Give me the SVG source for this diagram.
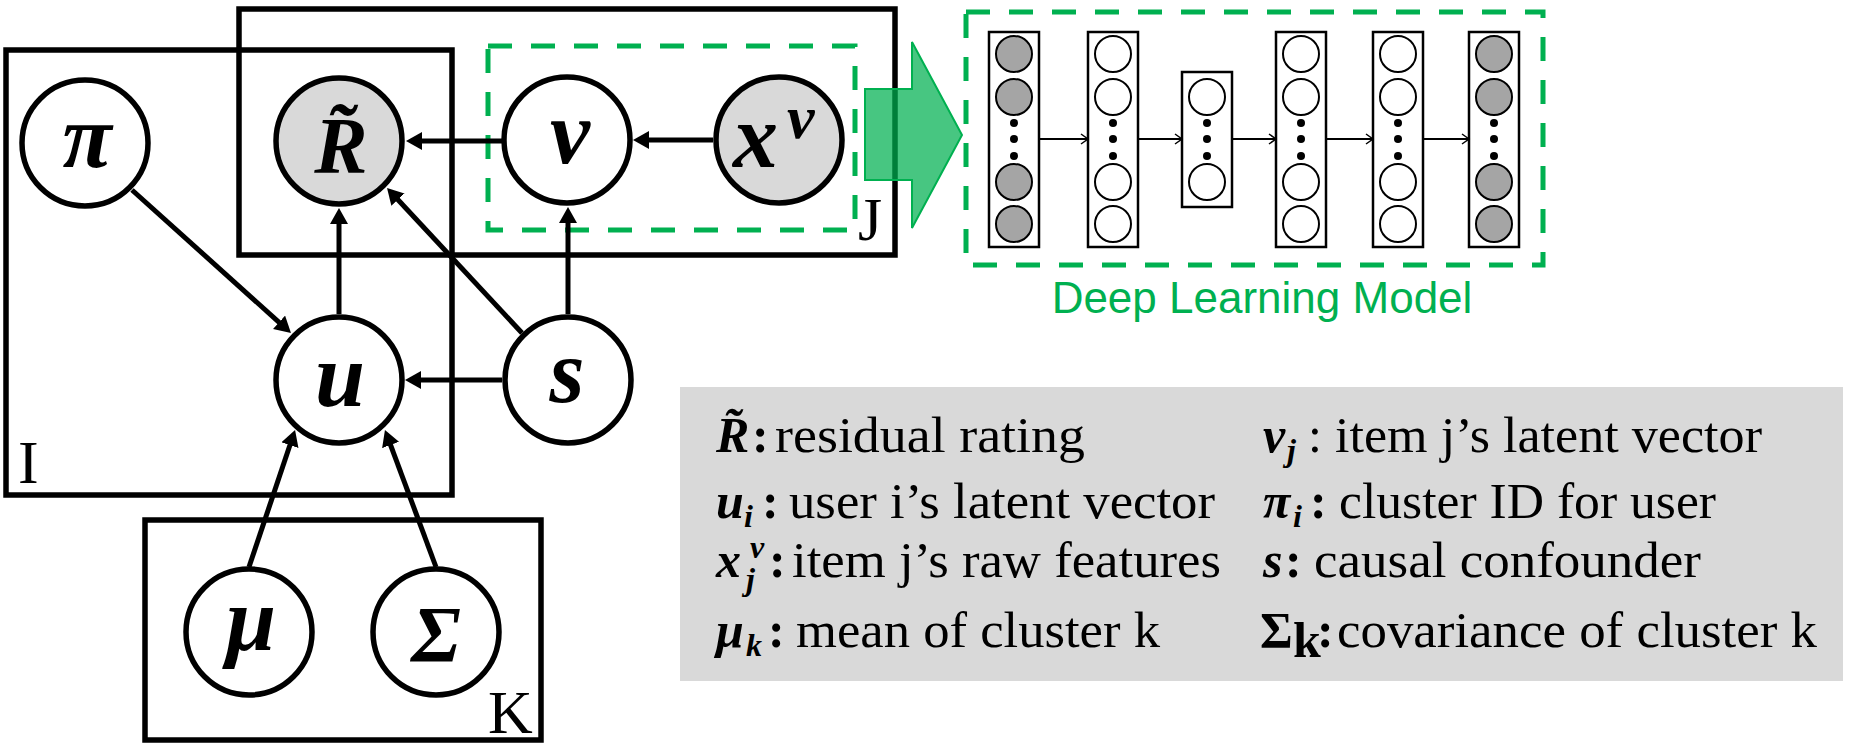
<svg xmlns="http://www.w3.org/2000/svg" width="1860" height="750" viewBox="0 0 1860 750">
<defs>
<marker id="ah" markerUnits="userSpaceOnUse" markerWidth="18" markerHeight="20" refX="3" refY="9" orient="auto"><path d="M0,0 L16,9 L0,18 z" fill="#000"/></marker>
<marker id="nh" markerUnits="userSpaceOnUse" markerWidth="10" markerHeight="12" refX="8" refY="6" orient="auto"><path d="M1,1 L8,6 L1,11" fill="none" stroke="#000" stroke-width="1.5"/></marker>
</defs>
<style>
.plate{fill:none;stroke:#000;stroke-width:5.5}
.pl{font-family:"Liberation Serif",serif;font-size:62px;fill:#000}
.node circle{stroke:#000;stroke-width:5.5}
.w{fill:#fff}
.g{fill:#D9D9D9}
.m{font-family:"Liberation Serif",serif;font-weight:bold;font-style:italic;fill:#000}
.lbl{font-size:90px;text-anchor:middle}
.edge{stroke:#000;stroke-width:5;fill:none;marker-end:url(#ah)}
.gd{fill:none;stroke:#00B050;stroke-width:5;stroke-dasharray:24 19}
.col{fill:#fff;stroke:#000;stroke-width:2.5}
.nc{stroke:#000;stroke-width:2}
.nw{fill:#fff}
.ng{fill:#A5A5A5}
.nnedge{stroke:#000;stroke-width:1.8;fill:none;marker-end:url(#nh)}
.leg{font-family:"Liberation Serif",serif;font-size:50px;fill:#000}
.lm{font-family:"Liberation Serif",serif;font-weight:bold;font-style:italic;font-size:50px;fill:#000}
.sub{font-size:32px}
.colon{font-family:"Liberation Serif",serif;font-weight:bold;font-style:normal;font-size:50px;fill:#000}
.bu{font-family:"Liberation Serif",serif;font-weight:bold;font-style:normal;font-size:50px;fill:#000}
</style>
<rect width="1860" height="750" fill="#fff"/>

<g id="plates">
<rect id="plate-I" class="plate" x="6" y="50" width="446" height="445"/>
<rect id="plate-J" class="plate" x="239" y="9" width="656" height="246"/>
<rect id="plate-K" class="plate" x="145" y="520" width="396" height="220"/>
<text class="pl" x="18" y="483">I</text>
<text class="pl" x="858" y="240">J</text>
<text class="pl" x="488" y="733">K</text>
</g>

<g id="item-model-box">
<rect class="gd" x="488" y="46" width="367" height="184"/>
</g>

<g id="connectors">
<line class="edge" x1="502" y1="141" x2="419" y2="141"/>
<line class="edge" x1="713" y1="140" x2="646" y2="140"/>
<line class="edge" x1="568" y1="314" x2="568" y2="220"/>
<line class="edge" x1="339" y1="314" x2="339" y2="221"/>
<line class="edge" x1="502" y1="380" x2="418" y2="380"/>
<line class="edge" x1="132" y1="190" x2="281.3" y2="324.3"/>
<line class="edge" x1="522" y1="333" x2="395.9" y2="197.5"/>
<line class="edge" x1="249" y1="567" x2="290.9" y2="442.3"/>
<line class="edge" x1="436" y1="567" x2="389.5" y2="442.2"/>
</g>

<g id="node-pi" class="node"><circle class="w" cx="85" cy="143" r="63"/><text class="m lbl" x="87" y="167">π</text></g>
<g id="node-R" class="node"><circle class="g" cx="339" cy="141" r="63"/><text class="m lbl" style="font-size:80px" x="341" y="173">R̃</text></g>
<g id="node-v" class="node"><circle class="w" cx="567" cy="140" r="63"/><text class="m lbl" x="570" y="163">v</text></g>
<g id="node-xv" class="node"><circle class="g" cx="779" cy="140" r="63"/><text class="m" style="font-size:90px" x="733" y="167">x</text><text class="m" style="font-size:62px" x="787" y="138">v</text></g>
<g id="node-u" class="node"><circle class="w" cx="339" cy="380" r="63"/><text class="m lbl" x="340" y="406">u</text></g>
<g id="node-s" class="node"><circle class="w" cx="568" cy="380" r="63"/><text class="m lbl" x="567" y="402">s</text></g>
<g id="node-mu" class="node"><circle class="w" cx="249" cy="632" r="63"/><text class="m lbl" x="251" y="650">μ</text></g>
<g id="node-sigma" class="node"><circle class="w" cx="436" cy="632" r="63"/><text class="m lbl" style="font-size:80px" x="436" y="662">Σ</text></g>

<g id="green-arrow">
<path d="M865,89 L912,89 L912,42 L962,135 L912,228 L912,180 L865,180 Z" fill="#00B050" fill-opacity="0.72" stroke="#00B050" stroke-width="2"/>
</g>

<g id="deep-learning-model">
<rect class="gd" x="966" y="12" width="577" height="253"/>
<g id="layers">
<rect class="col" x="989" y="32" width="50" height="215"/>
<rect class="col" x="1088" y="32" width="50" height="215"/>
<rect class="col" x="1182" y="72" width="50" height="135"/>
<rect class="col" x="1276" y="32" width="50" height="215"/>
<rect class="col" x="1373" y="32" width="50" height="215"/>
<rect class="col" x="1469" y="32" width="50" height="215"/>
</g>
<g id="units">
<circle class="nc ng" cx="1014" cy="54" r="18"/><circle class="nc ng" cx="1014" cy="97" r="18"/><circle class="nc ng" cx="1014" cy="182" r="18"/><circle class="nc ng" cx="1014" cy="224" r="18"/>
<circle class="nc nw" cx="1113" cy="54" r="18"/><circle class="nc nw" cx="1113" cy="97" r="18"/><circle class="nc nw" cx="1113" cy="182" r="18"/><circle class="nc nw" cx="1113" cy="224" r="18"/>
<circle class="nc nw" cx="1207" cy="97" r="18"/><circle class="nc nw" cx="1207" cy="182" r="18"/>
<circle class="nc nw" cx="1301" cy="54" r="18"/><circle class="nc nw" cx="1301" cy="97" r="18"/><circle class="nc nw" cx="1301" cy="182" r="18"/><circle class="nc nw" cx="1301" cy="224" r="18"/>
<circle class="nc nw" cx="1398" cy="54" r="18"/><circle class="nc nw" cx="1398" cy="97" r="18"/><circle class="nc nw" cx="1398" cy="182" r="18"/><circle class="nc nw" cx="1398" cy="224" r="18"/>
<circle class="nc ng" cx="1494" cy="54" r="18"/><circle class="nc ng" cx="1494" cy="97" r="18"/><circle class="nc ng" cx="1494" cy="182" r="18"/><circle class="nc ng" cx="1494" cy="224" r="18"/>
</g>
<g id="dots" fill="#000">
<circle cx="1014" cy="123" r="4"/><circle cx="1014" cy="139" r="4"/><circle cx="1014" cy="156" r="4"/>
<circle cx="1113" cy="123" r="4"/><circle cx="1113" cy="139" r="4"/><circle cx="1113" cy="156" r="4"/>
<circle cx="1207" cy="123" r="4"/><circle cx="1207" cy="139" r="4"/><circle cx="1207" cy="156" r="4"/>
<circle cx="1301" cy="123" r="4"/><circle cx="1301" cy="139" r="4"/><circle cx="1301" cy="156" r="4"/>
<circle cx="1398" cy="123" r="4"/><circle cx="1398" cy="139" r="4"/><circle cx="1398" cy="156" r="4"/>
<circle cx="1494" cy="123" r="4"/><circle cx="1494" cy="139" r="4"/><circle cx="1494" cy="156" r="4"/>
</g>
<g id="layer-connectors">
<line class="nnedge" x1="1040" y1="139" x2="1088" y2="139"/>
<line class="nnedge" x1="1139" y1="139" x2="1182" y2="139"/>
<line class="nnedge" x1="1233" y1="139" x2="1276" y2="139"/>
<line class="nnedge" x1="1327" y1="139" x2="1373" y2="139"/>
<line class="nnedge" x1="1424" y1="139" x2="1469" y2="139"/>
</g>
<text x="1262" y="313" text-anchor="middle" style="font-family:'Liberation Sans',sans-serif;font-size:44px;fill:#00B050">Deep Learning Model</text>
</g>

<g id="legend">
<rect x="680" y="387" width="1163" height="294" fill="#D9D9D9"/>
<text class="lm" x="716" y="452">R̃</text><text class="colon" x="752" y="452">:</text>
<text class="leg" x="775" y="452" textLength="310" lengthAdjust="spacingAndGlyphs">residual rating</text>
<text class="lm" x="716" y="518">u</text><text class="lm sub" x="744" y="527">i</text><text class="colon" x="762" y="518">:</text>
<text class="leg" x="789" y="518" textLength="426" lengthAdjust="spacingAndGlyphs">user i’s latent vector</text>
<text class="lm" x="716" y="577">x</text><text class="lm sub" x="750" y="558">v</text><text class="lm sub" x="746" y="590">j</text><text class="colon" x="769" y="577">:</text>
<text class="leg" x="792" y="577" textLength="429" lengthAdjust="spacingAndGlyphs">item j’s raw features</text>
<text class="lm" x="716" y="647">μ</text><text class="lm sub" x="746" y="656">k</text><text class="colon" x="768" y="647">:</text>
<text class="leg" x="796" y="647" textLength="364" lengthAdjust="spacingAndGlyphs">mean of cluster k</text>

<text class="lm" x="1263" y="452">v</text><text class="lm sub" x="1287" y="461">j</text><text class="leg" x="1308" y="452">:</text>
<text class="leg" x="1335" y="452" textLength="427" lengthAdjust="spacingAndGlyphs">item j’s latent vector</text>
<text class="lm" x="1263" y="518">π</text><text class="lm sub" x="1293" y="527">i</text><text class="colon" x="1310" y="518">:</text>
<text class="leg" x="1339" y="518" textLength="377" lengthAdjust="spacingAndGlyphs">cluster ID for user</text>
<text class="lm" x="1263" y="577">s</text><text class="colon" x="1285" y="577">:</text>
<text class="leg" x="1314" y="577" textLength="387" lengthAdjust="spacingAndGlyphs">causal confounder</text>
<text class="bu" x="1260" y="647">Σ</text><text class="bu sub" x="1293" y="657">k</text><text class="colon" x="1317" y="647">:</text>
<text class="leg" x="1337" y="647" textLength="480" lengthAdjust="spacingAndGlyphs">covariance of cluster k</text>
</g>
</svg>
